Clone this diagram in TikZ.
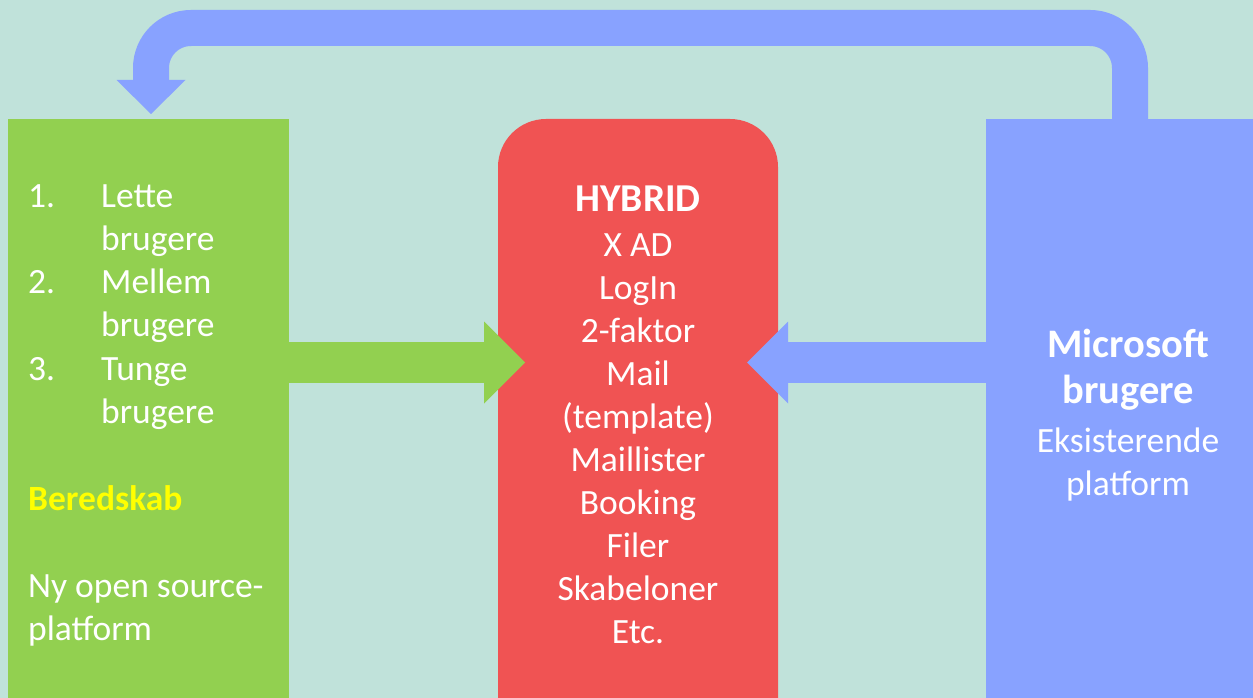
\documentclass[tikz,border=0pt]{standalone}
\usepackage{fontspec}
\setmainfont{Carlito}
\usetikzlibrary{arrows.meta}

\definecolor{bgteal}{HTML}{C0E2DA}
\definecolor{lightgreen}{HTML}{92D050}
\definecolor{hybridred}{HTML}{F05353}
\definecolor{msblue}{HTML}{88A2FF}
\definecolor{markyellow}{HTML}{FFFF00}

\newcommand{\bigbold}{\fontsize{40.5pt}{48pt}\selectfont\bfseries}

\tikzset{
  panel/.style={inner sep=0pt, outer sep=0pt, anchor=north west},
  txt/.style={inner sep=0pt, text=white, anchor=base,
    font=\fontsize{35.5pt}{43.3pt}\selectfont},
  fatarrow/.style={line width=41pt,
    -{Triangle[length=41pt,width=82pt,line width=0pt]}},
}

\begin{document}
\begin{tikzpicture}[x=1pt,y=-1pt]
  \clip (0,0) rectangle (1253,698);
  \fill[bgteal] (0,0) rectangle (1253,698);

  % the three panels
  \node[panel, fill=lightgreen, minimum width=281pt, minimum height=620pt] (light) at (8,119) {};
  \node[panel, fill=hybridred, rounded corners=48pt, minimum width=280pt, minimum height=660pt] (hybrid) at (498,119) {};
  \node[panel, fill=msblue, minimum width=280pt, minimum height=620pt] (ms) at (986,119) {};

  % arrows
  \coordinate (mid) at (0,362.5);
  \coordinate (bendR) at (1130,28);
  \coordinate (bendL) at (151,28);
  \draw[fatarrow, lightgreen] (light.east |- mid) -- ([xshift=27pt]hybrid.west |- mid);
  \draw[fatarrow, msblue] (ms.west |- mid) -- ([xshift=-31pt]hybrid.east |- mid);
  \draw[msblue, line width=36pt, rounded corners=40pt,
    -{Triangle[length=34pt,width=69pt,line width=0pt]}]
    (ms.north -| bendR) -- (bendR) -- (bendL) -- ([yshift=5pt]light.north -| bendL);

  % left panel
  \foreach \num/\first [count=\i] in {1./Lette,2./Mellem,3./Tunge} {
    \node[txt, anchor=base west] (num\i) at (28,{207+86.6*(\i-1)}) {\num};
    \node[txt, anchor=base west] (first\i) at (101,{207+86.6*(\i-1)}) {\first};
    \node[txt, anchor=base west] (second\i) at (101,{250.3+86.6*(\i-1)}) {brugere};
  }
  \node[txt, anchor=base west, text=markyellow] (readiness) at (28,510) {\bfseries Beredskab};
  \node[txt, anchor=base west] (newplat1) at (28,597) {Ny open source-};
  \node[txt, anchor=base west] (newplat2) at (28,640) {platform};

  % middle panel
  \node[txt] (hytitle) at (638,211) {\fontsize{39.5pt}{46pt}\selectfont\bfseries HYBRID};
  \foreach \entry [count=\i] in {X AD,LogIn,2-faktor,Mail,(template),Maillister,Booking,Filer,Skabeloner,Etc.}
    \node[txt] (hyline\i) at (638,{256+43*(\i-1)}) {\entry};

  % right panel
  \node[txt] (mstitle1) at (1128,357) {\bigbold Microsoft};
  \node[txt] (mstitle2) at (1128,403) {\bigbold brugere};
  \node[txt] (msline1) at (1128,452) {Eksisterende};
  \node[txt] (msline2) at (1128,495) {platform};
\end{tikzpicture}
\end{document}
